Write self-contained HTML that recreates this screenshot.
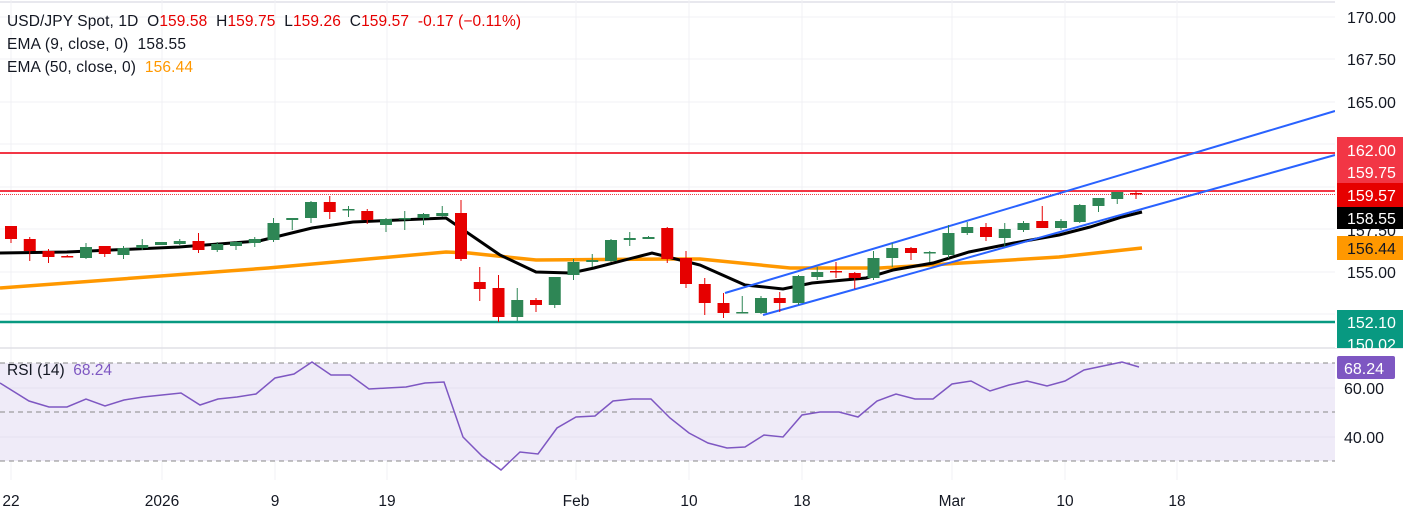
<!DOCTYPE html>
<html><head><meta charset="utf-8"><style>
body{margin:0;background:#fff;}
svg{display:block;font-family:"Liberation Sans",sans-serif;}
text{white-space:pre;}
.g rect{fill:#2e8655}.g line{stroke:#2e8655;stroke-width:1}
.r rect{fill:#e60000}.r line{stroke:#e60000;stroke-width:1}
</style></head><body>
<svg width="1403" height="511" viewBox="0 0 1403 511" xmlns="http://www.w3.org/2000/svg" xml:space="preserve">
<rect width="1403" height="511" fill="#fff"/>
<line x1="0" y1="2" x2="1403" y2="2" stroke="#e8e8ee" stroke-width="2"/>
<g stroke="#f1f1f4" stroke-width="1">
<line x1="11" y1="0" x2="11" y2="480"/><line x1="162" y1="0" x2="162" y2="480"/><line x1="275" y1="0" x2="275" y2="480"/><line x1="387" y1="0" x2="387" y2="480"/><line x1="576" y1="0" x2="576" y2="480"/><line x1="689" y1="0" x2="689" y2="480"/><line x1="802" y1="0" x2="802" y2="480"/><line x1="952" y1="0" x2="952" y2="480"/><line x1="1065" y1="0" x2="1065" y2="480"/><line x1="1177" y1="0" x2="1177" y2="480"/>
<line x1="0" y1="17" x2="1335" y2="17"/><line x1="0" y1="59" x2="1335" y2="59"/><line x1="0" y1="102" x2="1335" y2="102"/><line x1="0" y1="144" x2="1335" y2="144"/><line x1="0" y1="187" x2="1335" y2="187"/><line x1="0" y1="229" x2="1335" y2="229"/><line x1="0" y1="272" x2="1335" y2="272"/><line x1="0" y1="314" x2="1335" y2="314"/>
</g>
<line x1="0" y1="348" x2="1403" y2="348" stroke="#e0e0e6" stroke-width="1.5"/>
<rect x="0" y="363" width="1335" height="98" fill="#efebf8"/>
<g stroke="#e6e2f0"><line x1="0" y1="388" x2="1335" y2="388"/><line x1="0" y1="437" x2="1335" y2="437"/></g>
<g stroke="#888" stroke-dasharray="5,4" stroke-width="1"><line x1="0" y1="363" x2="1335" y2="363"/><line x1="0" y1="412" x2="1335" y2="412"/><line x1="0" y1="461" x2="1335" y2="461"/></g>
<polyline fill="none" stroke="#7e57c2" stroke-width="1.5" points="0,383 29,401 49,407 67,407 86,399 105,406 124,400 143,397 162,395 181,393 200,405 218,399 237,397 256,394 275,378 294,374 312,362 331,375 350,375 369,389 387,388 406,387 425,383 444,382 463,437 482,456 501,470 520,452 538,454 557,428 576,417 595,416 613,401 632,399 651,399 670,418 689,433 708,443 727,448 745,447 764,435 783,437 802,415 820,412 839,412 858,417 877,401 896,394 915,399 933,399 952,384 971,381 990,391 1009,385 1027,381 1047,386 1065,381 1084,370 1103,366 1122,362 1139,367"/>
<line x1="0" y1="153" x2="1335" y2="153" stroke="#f23645" stroke-width="2"/>
<line x1="0" y1="191" x2="1335" y2="191" stroke="#f23645" stroke-width="2"/>
<line x1="0" y1="194.5" x2="1335" y2="194.5" stroke="#f23645" stroke-width="1" stroke-dasharray="1,1"/>
<line x1="0" y1="322" x2="1335" y2="322" stroke="#089981" stroke-width="2.5"/>
<polyline fill="none" stroke="#ff9800" stroke-width="3.5" points="0,288 268,268 446,252 469,253 536,260 670,259 700,259 790,268 880,268 1059,257 1142,248"/>
<polyline fill="none" stroke="#000" stroke-width="3" points="0,253 67,252 179,247 259,241 312,228 353,222 446,218 500,255 536,272 571,273 594,268 652,253 700,265 745,285 783,289 812,283 866,278 893,270 933,263 969,252 1014,243 1059,235 1090,227 1122,217 1142,212"/>
<line x1="725" y1="293" x2="1335" y2="111" stroke="#2962ff" stroke-width="2"/>
<line x1="763" y1="315" x2="1335" y2="155" stroke="#2962ff" stroke-width="2"/>
<g class="r">
<line x1="11" y1="226" x2="11" y2="243"/><rect x="5" y="226" width="12" height="13"/>
<line x1="29.75" y1="237" x2="29.75" y2="261"/><rect x="23.75" y="239" width="12" height="12"/>
<line x1="48.5" y1="249" x2="48.5" y2="263"/><rect x="42.5" y="251" width="12" height="6"/>
<line x1="67.25" y1="255" x2="67.25" y2="257"/><rect x="61.25" y="256" width="12" height="1.5"/>
<line x1="104.75" y1="246" x2="104.75" y2="257"/><rect x="98.75" y="246" width="12" height="8"/>
<line x1="198.5" y1="233" x2="198.5" y2="253"/><rect x="192.5" y="241" width="12" height="9"/>
<line x1="329.75" y1="196" x2="329.75" y2="219"/><rect x="323.75" y="202" width="12" height="10"/>
<line x1="367.25" y1="209" x2="367.25" y2="224"/><rect x="361.25" y="211" width="12" height="9"/>
<line x1="461" y1="200" x2="461" y2="261"/><rect x="455" y="213" width="12" height="46"/>
<line x1="479.75" y1="267" x2="479.75" y2="301"/><rect x="473.75" y="282" width="12" height="7"/>
<line x1="498.5" y1="275" x2="498.5" y2="322"/><rect x="492.5" y="288" width="12" height="29"/>
<line x1="536" y1="298" x2="536" y2="312"/><rect x="530" y="300" width="12" height="5"/>
<line x1="667.25" y1="227" x2="667.25" y2="263"/><rect x="661.25" y="228" width="12" height="31"/>
<line x1="686" y1="251" x2="686" y2="288"/><rect x="680" y="258" width="12" height="26"/>
<line x1="704.75" y1="278" x2="704.75" y2="315"/><rect x="698.75" y="284" width="12" height="19"/>
<line x1="723.5" y1="293" x2="723.5" y2="318"/><rect x="717.5" y="303" width="12" height="10"/>
<line x1="779.75" y1="292" x2="779.75" y2="312"/><rect x="773.75" y="298" width="12" height="5"/>
<line x1="836" y1="262" x2="836" y2="278"/><rect x="830" y="271" width="12" height="1.5"/>
<line x1="854.75" y1="272" x2="854.75" y2="289"/><rect x="848.75" y="273" width="12" height="5"/>
<line x1="911" y1="247" x2="911" y2="260"/><rect x="905" y="248" width="12" height="5"/>
<line x1="986" y1="223" x2="986" y2="241"/><rect x="980" y="227" width="12" height="10"/>
<line x1="1042.25" y1="206" x2="1042.25" y2="228"/><rect x="1036.25" y="221" width="12" height="7"/>
<line x1="1136" y1="191" x2="1136" y2="199"/><rect x="1130" y="193" width="12" height="1.5"/>
</g>
<g class="g">
<line x1="86" y1="243" x2="86" y2="259"/><rect x="80" y="247" width="12" height="11"/>
<line x1="123.5" y1="246" x2="123.5" y2="259"/><rect x="117.5" y="248" width="12" height="7"/>
<line x1="142.25" y1="239" x2="142.25" y2="250"/><rect x="136.25" y="245" width="12" height="3"/>
<line x1="161" y1="242" x2="161" y2="245"/><rect x="155" y="242" width="12" height="3"/>
<line x1="179.75" y1="239" x2="179.75" y2="245"/><rect x="173.75" y="241" width="12" height="3"/>
<line x1="217.25" y1="242" x2="217.25" y2="252"/><rect x="211.25" y="244" width="12" height="6"/>
<line x1="236" y1="241" x2="236" y2="250"/><rect x="230" y="242" width="12" height="4"/>
<line x1="254.75" y1="237" x2="254.75" y2="247"/><rect x="248.75" y="239" width="12" height="4"/>
<line x1="273.5" y1="218" x2="273.5" y2="242"/><rect x="267.5" y="223" width="12" height="17"/>
<line x1="292.25" y1="218" x2="292.25" y2="230"/><rect x="286.25" y="218" width="12" height="2"/>
<line x1="311" y1="201" x2="311" y2="223"/><rect x="305" y="202" width="12" height="16"/>
<line x1="348.5" y1="206" x2="348.5" y2="217"/><rect x="342.5" y="209" width="12" height="1.5"/>
<line x1="386" y1="218" x2="386" y2="232"/><rect x="380" y="219" width="12" height="6"/>
<line x1="404.75" y1="211" x2="404.75" y2="230"/><rect x="398.75" y="218" width="12" height="1.5"/>
<line x1="423.5" y1="213" x2="423.5" y2="225"/><rect x="417.5" y="214" width="12" height="4"/>
<line x1="442.25" y1="206" x2="442.25" y2="217"/><rect x="436.25" y="213" width="12" height="3"/>
<line x1="517.25" y1="288" x2="517.25" y2="321"/><rect x="511.25" y="300" width="12" height="17"/>
<line x1="554.75" y1="277" x2="554.75" y2="308"/><rect x="548.75" y="277" width="12" height="28"/>
<line x1="573.5" y1="259" x2="573.5" y2="280"/><rect x="567.5" y="262" width="12" height="13"/>
<line x1="592.25" y1="254" x2="592.25" y2="267"/><rect x="586.25" y="260" width="12" height="2"/>
<line x1="611" y1="239" x2="611" y2="262"/><rect x="605" y="240" width="12" height="21"/>
<line x1="629.75" y1="232" x2="629.75" y2="246"/><rect x="623.75" y="238" width="12" height="2"/>
<line x1="648.5" y1="236" x2="648.5" y2="239"/><rect x="642.5" y="237" width="12" height="2"/>
<line x1="742.25" y1="296" x2="742.25" y2="313"/><rect x="736.25" y="312" width="12" height="1.5"/>
<line x1="761" y1="296" x2="761" y2="314"/><rect x="755" y="298" width="12" height="15"/>
<line x1="798.5" y1="275" x2="798.5" y2="305"/><rect x="792.5" y="276" width="12" height="27"/>
<line x1="817.25" y1="267" x2="817.25" y2="280"/><rect x="811.25" y="272" width="12" height="5"/>
<line x1="873.5" y1="251" x2="873.5" y2="280"/><rect x="867.5" y="258" width="12" height="20"/>
<line x1="892.25" y1="243" x2="892.25" y2="267"/><rect x="886.25" y="248" width="12" height="10"/>
<line x1="929.75" y1="251" x2="929.75" y2="262"/><rect x="923.75" y="252" width="12" height="1.5"/>
<line x1="948.5" y1="225" x2="948.5" y2="258"/><rect x="942.5" y="233" width="12" height="22"/>
<line x1="967.25" y1="222" x2="967.25" y2="235"/><rect x="961.25" y="227" width="12" height="6"/>
<line x1="1004.75" y1="223" x2="1004.75" y2="247"/><rect x="998.75" y="229" width="12" height="9"/>
<line x1="1023.5" y1="221" x2="1023.5" y2="232"/><rect x="1017.5" y="223" width="12" height="7"/>
<line x1="1061" y1="219" x2="1061" y2="230"/><rect x="1055" y="221" width="12" height="7"/>
<line x1="1079.75" y1="204" x2="1079.75" y2="223"/><rect x="1073.75" y="205" width="12" height="17"/>
<line x1="1098.5" y1="198" x2="1098.5" y2="212"/><rect x="1092.5" y="198" width="12" height="8"/>
<line x1="1117.25" y1="192" x2="1117.25" y2="204"/><rect x="1111.25" y="192" width="12" height="7"/>
</g>
<g font-size="15.5" fill="#131722">
<text x="7" y="26" textLength="514" lengthAdjust="spacing">USD/JPY Spot, 1D  O<tspan fill="#e60000">159.58</tspan>  H<tspan fill="#e60000">159.75</tspan>  L<tspan fill="#e60000">159.26</tspan>  C<tspan fill="#e60000">159.57</tspan>  <tspan fill="#e60000">-0.17 (−0.11%)</tspan></text>
<text x="7" y="49" textLength="179" lengthAdjust="spacing">EMA (9, close, 0)  158.55</text>
<text x="7" y="72" textLength="186" lengthAdjust="spacing">EMA (50, close, 0)  <tspan fill="#ff9800">156.44</tspan></text>
<text x="7" y="375" textLength="105" lengthAdjust="spacing">RSI (14)  <tspan fill="#7e57c2">68.24</tspan></text>
</g>
<rect x="1335" y="0" width="68" height="348" fill="#fff"/>
<g font-size="16" fill="#131722">
<text x="1347" y="23">170.00</text><text x="1347" y="65">167.50</text><text x="1347" y="108">165.00</text>
<text x="1347" y="236">157.50</text><text x="1347" y="278">155.00</text>
</g>
<rect x="1337" y="137" width="66" height="46" fill="#f23645"/>
<rect x="1337" y="183" width="66" height="24" fill="#e60000"/>
<rect x="1337" y="207" width="66" height="22" fill="#000"/>
<rect x="1337" y="236" width="66" height="24" fill="#ff9800"/>
<rect x="1337" y="310" width="66" height="38" fill="#089981"/>
<rect x="1337" y="356" width="58" height="23" fill="#7e57c2" rx="2"/>
<g font-size="16" fill="#fff">
<text x="1347" y="156">162.00</text><text x="1347" y="178">159.75</text><text x="1347" y="201">159.57</text><text x="1347" y="224">158.55</text>
<text x="1347" y="254" fill="#131722">156.44</text>
<text x="1347" y="328">152.10</text><text x="1347" y="350">150.02</text>
<text x="1344" y="374">68.24</text>
</g>
<rect x="1335" y="349" width="68" height="6" fill="#fff"/>
<g font-size="16" fill="#131722"><text x="1344" y="394">60.00</text><text x="1344" y="443">40.00</text></g>
<g font-size="15.5" fill="#131722" text-anchor="middle">
<text x="11" y="506">22</text><text x="162" y="506">2026</text><text x="275" y="506">9</text><text x="387" y="506">19</text><text x="576" y="506">Feb</text><text x="689" y="506">10</text><text x="802" y="506">18</text><text x="952" y="506">Mar</text><text x="1065" y="506">10</text><text x="1177" y="506">18</text>
</g>
</svg>
</body></html>
